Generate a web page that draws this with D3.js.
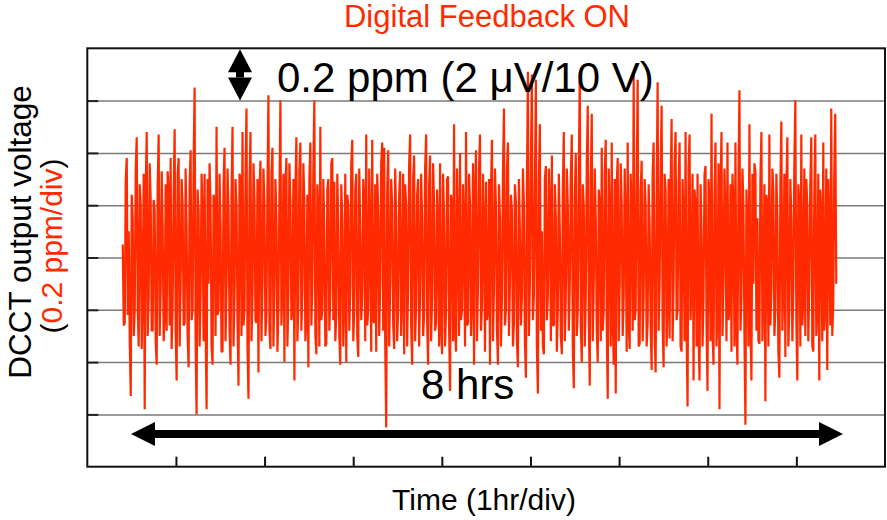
<!DOCTYPE html>
<html>
<head>
<meta charset="utf-8">
<script src="https://cdn.jsdelivr.net/npm/d3@7"></script>
<style>
  body { margin: 0; background: #fff; }
  svg { display: block; }
  text { font-family: "Liberation Sans", Arial, sans-serif; }
</style>
</head>
<body>
<div id="chart"></div>
<script>
// Data (ppm; 0 = centre gridline)
var voltage = [
   0.05,-0.26,-0.25, 0.30, 0.38,-0.22, 0.10,-0.32,-0.53, 0.24, 0.15,-0.30,-0.20, 0.34, 0.46,-0.20,-0.34, 0.28, 0.20,-0.35,
  -0.10, 0.32,-0.58, 0.26, 0.48,-0.30,-0.15, 0.36, 0.22,-0.28,-0.28, 0.22, 0.18,-0.32,-0.41, 0.28, 0.47,-0.30,-0.12, 0.33,
   0.12,-0.32,-0.22, 0.28,-0.28, 0.33, 0.25,-0.26, 0.38,-0.35,-0.18, 0.24, 0.49,-0.28,-0.47, 0.32, 0.38,-0.34,-0.10, 0.30,
   0.20,-0.26,-0.25, 0.34, 0.10,-0.30,-0.42, 0.28, 0.41,-0.24,-0.20, 0.36, 0.65,-0.32,-0.60, 0.26, 0.18,-0.34,-0.15, 0.32,
   0.15,-0.32, 0.32,-0.26,-0.58, 0.30,-0.10, 0.36, 0.20,-0.34,-0.41, 0.24, 0.22,-0.30, 0.50,-0.22,-0.20, 0.32, 0.12,-0.36,
  -0.36, 0.28, 0.42,-0.32,-0.10, 0.34, 0.18,-0.28,-0.41, 0.24, 0.50,-0.34,-0.15, 0.30, 0.20,-0.24,-0.49, 0.32, 0.30,-0.30,
   0.48,-0.26,-0.20, 0.32, 0.57,-0.34,-0.54, 0.28, 0.48,-0.32,-0.15, 0.36, 0.22,-0.24,-0.25, 0.30,-0.44, 0.26, 0.37,-0.32,
  -0.10, 0.34, 0.20,-0.30,-0.22, 0.26, 0.62,-0.28,-0.35, 0.32, 0.42,-0.34,-0.12, 0.30, 0.15,-0.36,-0.20, 0.24, 0.60,-0.26,
  -0.10, 0.32,-0.40, 0.28, 0.38,-0.34,-0.15, 0.36, 0.22,-0.24,-0.20, 0.30,-0.47, 0.26, 0.46,-0.32,-0.18, 0.34, 0.44,-0.28,
  -0.12, 0.36, 0.20,-0.32,-0.25, 0.24,-0.42, 0.30, 0.44,-0.26,-0.10, 0.34, 0.60,-0.30,-0.37, 0.28, 0.18,-0.34, 0.50,-0.24,
  -0.20, 0.30, 0.10,-0.34,-0.33, 0.26, 0.30,-0.28,-0.15, 0.36, 0.38,-0.24, 0.29,-0.32,-0.22, 0.32, 0.12,-0.30,-0.41, 0.28,
   0.15,-0.34,-0.18, 0.32,-0.40, 0.24, 0.20,-0.28,-0.12, 0.36, 0.45,-0.32,-0.20, 0.26, 0.32,-0.30,-0.38, 0.34, 0.10,-0.24,
  -0.15, 0.30, 0.22,-0.32, 0.47,-0.26,-0.20, 0.34, 0.10,-0.36, 0.45,-0.24,-0.25, 0.28,-0.36, 0.32, 0.18,-0.30,-0.10, 0.36,
   0.44,-0.28, 0.42,-0.32,-0.65, 0.26, 0.41,-0.34,-0.10, 0.30, 0.20,-0.26,-0.35, 0.34, 0.15,-0.32,-0.20, 0.24, 0.33,-0.30,
  -0.15, 0.32,-0.37, 0.28, 0.20,-0.34,-0.10, 0.36, 0.47,-0.26,-0.41, 0.30, 0.39,-0.32,-0.18, 0.24, 0.30,-0.34,-0.12, 0.32,
   0.15,-0.30,-0.22, 0.34, 0.47,-0.24,-0.41, 0.28, 0.39,-0.32,-0.15, 0.36, 0.20,-0.28,-0.25, 0.26, 0.12,-0.34, 0.36,-0.26,
  -0.37, 0.32, 0.15,-0.34,-0.20, 0.30, 0.31,-0.26,-0.51, 0.24, 0.20,-0.32, 0.51,-0.28,-0.36, 0.34, 0.10,-0.30, 0.40,-0.24,
  -0.20, 0.28, 0.12,-0.34, 0.48,-0.26,-0.25, 0.32, 0.20,-0.30,-0.15, 0.36,-0.41, 0.24, 0.41,-0.32,-0.10, 0.34, 0.47,-0.28,
  -0.18, 0.32, 0.10,-0.36, 0.29,-0.24,-0.20, 0.30,-0.41, 0.26, 0.45,-0.32,-0.12, 0.34, 0.20,-0.28,-0.41, 0.28, 0.15,-0.34,
  -0.15, 0.32, 0.57,-0.26,-0.20, 0.34, 0.44,-0.30,-0.10, 0.24, 0.18,-0.34,-0.25, 0.28, 0.21,-0.32,-0.42, 0.30, 0.10,-0.26,
  -0.15, 0.34, 0.20,-0.32,-0.46, 0.26, 0.71,-0.30,-0.10, 0.36, 0.70,-0.24,-0.15, 0.28, 0.68,-0.34,-0.52, 0.30, 0.51,-0.28,
   0.10,-0.34,-0.37, 0.30, 0.35,-0.24,-0.15, 0.34, 0.20,-0.32, 0.39,-0.26,-0.26, 0.28, 0.15,-0.36,-0.20, 0.32, 0.10,-0.30,
  -0.37, 0.26, 0.48,-0.32,-0.15, 0.34, 0.20,-0.28,-0.10, 0.30, 0.47,-0.34,-0.50, 0.24, 0.40,-0.30,-0.20, 0.32, 0.71,-0.26,
  -0.40, 0.28, 0.20,-0.34,-0.15, 0.36, 0.58,-0.24,-0.49, 0.30, 0.55,-0.32,-0.10, 0.34, 0.15,-0.28,-0.40, 0.26, 0.20,-0.32,
   0.42,-0.28,-0.20, 0.32, 0.45,-0.26,-0.54, 0.34, 0.15,-0.34, 0.44,-0.24,-0.41, 0.30,-0.52, 0.28, 0.38,-0.32,-0.10, 0.36,
   0.20,-0.30,-0.15, 0.34, 0.10,-0.36, 0.44,-0.26,-0.35, 0.32, 0.15,-0.28, 0.70,-0.24,-0.20, 0.30, 0.68,-0.34,-0.33, 0.26,
   0.37,-0.32,-0.15, 0.30, 0.20,-0.34,-0.25, 0.28, 0.12,-0.26,-0.43, 0.32, 0.44,-0.30,-0.44, 0.24, 0.67,-0.28,-0.10, 0.34,
   0.58,-0.26,-0.42, 0.32, 0.26,-0.34,-0.15, 0.30,-0.31, 0.26, 0.53,-0.32,-0.10, 0.36, 0.48,-0.24,-0.20, 0.28, 0.44,-0.34,
  -0.36, 0.30, 0.15,-0.32, 0.48,-0.28,-0.57, 0.34, 0.47,-0.24,-0.10, 0.32,-0.47, 0.26, 0.20,-0.34, 0.32,-0.30,-0.47, 0.28,
   0.10,-0.34,-0.15, 0.32, 0.35,-0.26,-0.51, 0.30, 0.20,-0.32, 0.55,-0.28,-0.41, 0.24, 0.44,-0.34,-0.20, 0.36,-0.58, 0.26,
   0.48,-0.30,-0.10, 0.34, 0.15,-0.32, 0.44,-0.24,-0.20, 0.28,-0.36, 0.32, 0.20,-0.34, 0.44,-0.26,-0.41, 0.30, 0.64,-0.28,
  -0.15, 0.34, 0.20,-0.30,-0.64, 0.26, 0.10,-0.34, 0.51,-0.24,-0.47, 0.32,-0.10, 0.36, 0.33,-0.28, 0.15,-0.32,-0.33, 0.30,
   0.48,-0.32,-0.15, 0.28,-0.55, 0.24, 0.20,-0.34, 0.47,-0.26,-0.12, 0.34, 0.25,-0.30,-0.20, 0.32, 0.15,-0.36,-0.46, 0.28,
   0.52,-0.28,-0.10, 0.32,-0.38, 0.26, 0.46,-0.34,-0.20, 0.30, 0.15,-0.32,-0.12, 0.36, 0.60,-0.24,-0.47, 0.28, 0.20,-0.34,
   0.47,-0.26,-0.15, 0.34,-0.30, 0.30, 0.20,-0.32,-0.10, 0.28, 0.46,-0.34,-0.36, 0.24, 0.47,-0.30,-0.20, 0.32,-0.47, 0.26,
   0.15,-0.32, 0.44,-0.28,-0.20, 0.34,-0.43, 0.30, 0.10,-0.26, 0.57,-0.30,-0.18, 0.32, 0.55,-0.10
];
var tStart      = 0.4;    // hr, first sample
var tEnd        = 8.45;   // hr, last sample
var hourTicks   = [1, 2, 3, 4, 5, 6, 7, 8];
var gridLevels  = [-0.6, -0.4, -0.2, 0, 0.2, 0.4, 0.6];

// Size
var chart_width  = 887;
var chart_height = 520;
var frame = { left: 87.3, right: 885, top: 48.3, bottom: 466.7 };
var red = "#ff2a00";

var x = d3.scaleLinear().domain([0, 9]).range([frame.left, frame.right]);
var y = d3.scaleLinear().domain([-0.8, 0.8]).range([frame.bottom, frame.top]);

var svg = d3.select("#chart")
    .append("svg")
    .attr("width", chart_width)
    .attr("height", chart_height);

// gridlines
svg.append("g")
    .attr("transform", "translate(" + frame.left + ",0)")
    .call(d3.axisLeft(y).tickValues(gridLevels).tickSize(-(frame.right - frame.left)).tickFormat(""))
    .call(g => g.select(".domain").remove())
    .call(g => g.selectAll("line").attr("stroke", "#7a7a7a").attr("stroke-width", 1.5));

// short left ticks
svg.append("g")
    .attr("transform", "translate(" + frame.left + ",0)")
    .call(d3.axisLeft(y).tickValues(gridLevels).tickSize(-11).tickFormat(""))
    .call(g => g.select(".domain").remove())
    .call(g => g.selectAll("line").attr("stroke", "#222").attr("stroke-width", 2));

// bottom ticks
svg.append("g")
    .attr("transform", "translate(0," + frame.bottom + ")")
    .call(d3.axisBottom(x).tickValues(hourTicks).tickSize(-10).tickFormat(""))
    .call(g => g.select(".domain").remove())
    .call(g => g.selectAll("line").attr("stroke", "#111").attr("stroke-width", 2));

// trace
var dt = (tEnd - tStart) / (voltage.length - 1);
var line = d3.line()
    .x((d, i) => x(tStart + i * dt))
    .y(d => y(d));

svg.append("path")
    .datum(voltage)
    .attr("d", line)
    .attr("fill", "none")
    .attr("stroke", red)
    .attr("stroke-width", 2.2)
    .attr("stroke-linejoin", "bevel");

// frame
svg.append("rect")
    .attr("x", frame.left)
    .attr("y", frame.top)
    .attr("width", frame.right - frame.left)
    .attr("height", frame.bottom - frame.top)
    .attr("fill", "none")
    .attr("stroke", "#111")
    .attr("stroke-width", 2);

// horizontal double arrow (8 hrs)
var ay = 434, ax1 = 131, ax2 = 843, head = 24, half = 12, shaft = 4;
svg.append("path")
    .attr("d", "M" + ax1 + "," + ay +
        " L" + (ax1 + head) + "," + (ay - half) +
        " L" + (ax1 + head) + "," + (ay - shaft) +
        " L" + (ax2 - head) + "," + (ay - shaft) +
        " L" + (ax2 - head) + "," + (ay - half) +
        " L" + ax2 + "," + ay +
        " L" + (ax2 - head) + "," + (ay + half) +
        " L" + (ax2 - head) + "," + (ay + shaft) +
        " L" + (ax1 + head) + "," + (ay + shaft) +
        " L" + (ax1 + head) + "," + (ay + half) + " Z")
    .attr("fill", "#000");

// vertical double arrow (0.2 ppm)
var vx = 240, vy1 = y(0.8) + 1, vy2 = y(0.6), vw = 12;
svg.append("path")
    .attr("d", "M" + vx + "," + vy1 +
        " L" + (vx + vw) + "," + (vy1 + 23) +
        " L" + (vx - vw) + "," + (vy1 + 23) + " Z" +
        " M" + (vx - 4) + "," + (vy1 + 22) + " h8 v6 h-8 Z" +
        " M" + (vx - vw) + "," + (vy2 - 23) +
        " L" + (vx + vw) + "," + (vy2 - 23) +
        " L" + vx + "," + vy2 + " Z")
    .attr("fill", "#000");

// texts
svg.append("text")
    .attr("x", 487).attr("y", 27)
    .attr("text-anchor", "middle")
    .attr("font-size", 31)
    .attr("fill", red)
    .text("Digital Feedback ON");

svg.append("text")
    .attr("x", 277).attr("y", 92)
    .attr("font-size", 42)
    .attr("fill", "#000")
    .text("0.2 ppm (2 \u03bcV/10 V)");

svg.append("text")
    .attr("x", 421).attr("y", 399)
    .attr("font-size", 42)
    .attr("fill", "#000")
    .text("8 hrs");

svg.append("text")
    .attr("x", 484).attr("y", 510)
    .attr("text-anchor", "middle")
    .attr("font-size", 30)
    .attr("fill", "#000")
    .text("Time (1hr/div)");

svg.append("text")
    .attr("transform", "translate(31,232) rotate(-90)")
    .attr("text-anchor", "middle")
    .attr("font-size", 31.5)
    .attr("fill", "#000")
    .text("DCCT output voltage");

var yl2 = svg.append("text")
    .attr("transform", "translate(62,246) rotate(-90)")
    .attr("text-anchor", "middle")
    .attr("font-size", 30)
    .attr("fill", "#000");
yl2.append("tspan").text("(");
yl2.append("tspan").attr("fill", red).text("0.2 ppm/div");
yl2.append("tspan").text(")");
</script>
</body>
</html>
